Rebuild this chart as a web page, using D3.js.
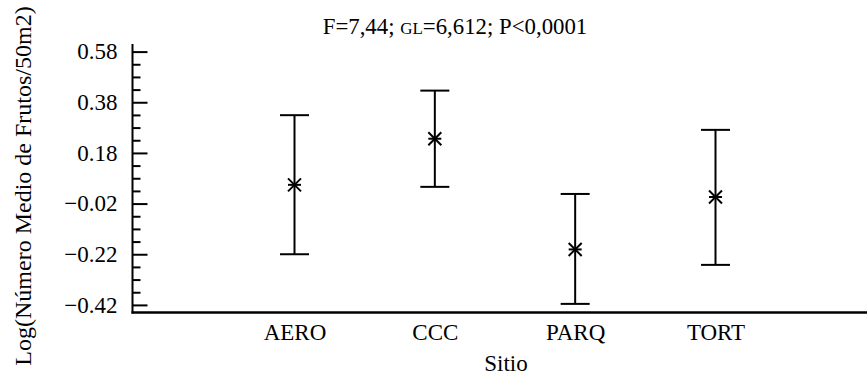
<!DOCTYPE html>
<html>
<head>
<meta charset="utf-8">
<script src="https://cdn.jsdelivr.net/npm/d3@7"></script>
<style>
  html, body { margin: 0; padding: 0; background: #fff; }
  svg { display: block; }
  svg text { font-family: "Liberation Serif", "Times New Roman", Times, serif; fill: #000; }
</style>
</head>
<body>
<svg id="chart" width="867" height="379"></svg>
<script>
const categories = ["AERO", "CCC", "PARQ", "TORT"];
const means = [0.054, 0.236, -0.201, 0.006];
const lower = [-0.220, 0.046, -0.416, -0.262];
const upper = [0.329, 0.426, 0.018, 0.271];
const yMajorTicks = [-0.42, -0.22, -0.02, 0.18, 0.38, 0.58];
const yMinorTicks = [-0.37, -0.32, -0.27, -0.17, -0.12, -0.07, 0.03, 0.08, 0.13, 0.23, 0.28, 0.33, 0.43, 0.48, 0.53];
const yDomain = [-0.45, 0.61];
const titleParts = ["F=7,44; ", "GL", "=6,612; P<0,0001"];
const xTitle = "Sitio";
const yTitle = "Log(Número Medio de Frutos/50m2)";

const svg = d3.select("#chart");
const mLeft = 132.5, mRight = 867, mTop = 44, mBottom = 312.5;

const y = d3.scaleLinear().domain(yDomain).range([mBottom, mTop]);
const x = d3.scalePoint().domain(categories).range([294.5, 715.5]);

const fs = 23;
const fontFam = "Liberation Serif, Times New Roman, serif";

// y axis major ticks
const yAxis = d3.axisLeft(y).tickValues(yMajorTicks).tickSize(-15).tickPadding(15)
  .tickFormat(d3.format(".2f"));
const gy = svg.append("g").attr("transform", `translate(${mLeft},0)`).call(yAxis)
  .attr("font-family", fontFam).attr("font-size", fs);
gy.select(".domain").remove();
gy.selectAll(".tick line").attr("stroke", "#000").attr("stroke-width", 2);
gy.selectAll(".tick text").attr("fill", "#000");

// minor ticks
const yMinor = d3.axisLeft(y).tickValues(yMinorTicks).tickSize(-8).tickFormat("");
const gm = svg.append("g").attr("transform", `translate(${mLeft},0)`).call(yMinor);
gm.select(".domain").remove();
gm.selectAll(".tick line").attr("stroke", "#000").attr("stroke-width", 2);

// axis lines
svg.append("line").attr("x1", mLeft).attr("x2", mLeft).attr("y1", mTop).attr("y2", mBottom + 1)
  .attr("stroke", "#000").attr("stroke-width", 2);
svg.append("line").attr("x1", mLeft - 1).attr("x2", mRight).attr("y1", mBottom).attr("y2", mBottom)
  .attr("stroke", "#000").attr("stroke-width", 2.5);

// x axis labels
const xAxis = d3.axisBottom(x).tickSize(0).tickPadding(11);
const gx = svg.append("g").attr("transform", `translate(0,${mBottom})`).call(xAxis)
  .attr("font-family", fontFam).attr("font-size", fs);
gx.select(".domain").remove();
gx.selectAll(".tick text").attr("fill", "#000");

// error bars
const capW = 14.5;
const data = categories.map((c, i) => ({ c, m: means[i], lo: lower[i], hi: upper[i] }));
const g = svg.append("g").attr("stroke", "#000").attr("stroke-width", 2).attr("fill", "none");
data.forEach(d => {
  const cx = x(d.c);
  g.append("line").attr("x1", cx).attr("x2", cx).attr("y1", y(d.hi)).attr("y2", y(d.lo));
  g.append("line").attr("x1", cx - capW).attr("x2", cx + capW).attr("y1", y(d.hi)).attr("y2", y(d.hi));
  g.append("line").attr("x1", cx - capW).attr("x2", cx + capW).attr("y1", y(d.lo)).attr("y2", y(d.lo));
  const cy = y(d.m), r = 6.5;
  g.append("line").attr("x1", cx - r).attr("x2", cx + r).attr("y1", cy - r).attr("y2", cy + r);
  g.append("line").attr("x1", cx - r).attr("x2", cx + r).attr("y1", cy + r).attr("y2", cy - r);
  g.append("line").attr("x1", cx - r).attr("x2", cx + r).attr("y1", cy).attr("y2", cy);
});

// title
const t = svg.append("text").attr("x", 455).attr("y", 34).attr("text-anchor", "middle")
  .attr("font-size", 22.8);
t.append("tspan").text(titleParts[0]);
t.append("tspan").attr("font-size", 17).text(titleParts[1]);
t.append("tspan").text(titleParts[2]);

// x title
svg.append("text").attr("x", 506).attr("y", 371).attr("text-anchor", "middle")
  .attr("font-size", fs).text(xTitle);

// y title
svg.append("text").attr("transform", `translate(31,${186}) rotate(-90)`).attr("text-anchor", "middle")
  .attr("font-size", 24).text(yTitle);
</script>
</body>
</html>
